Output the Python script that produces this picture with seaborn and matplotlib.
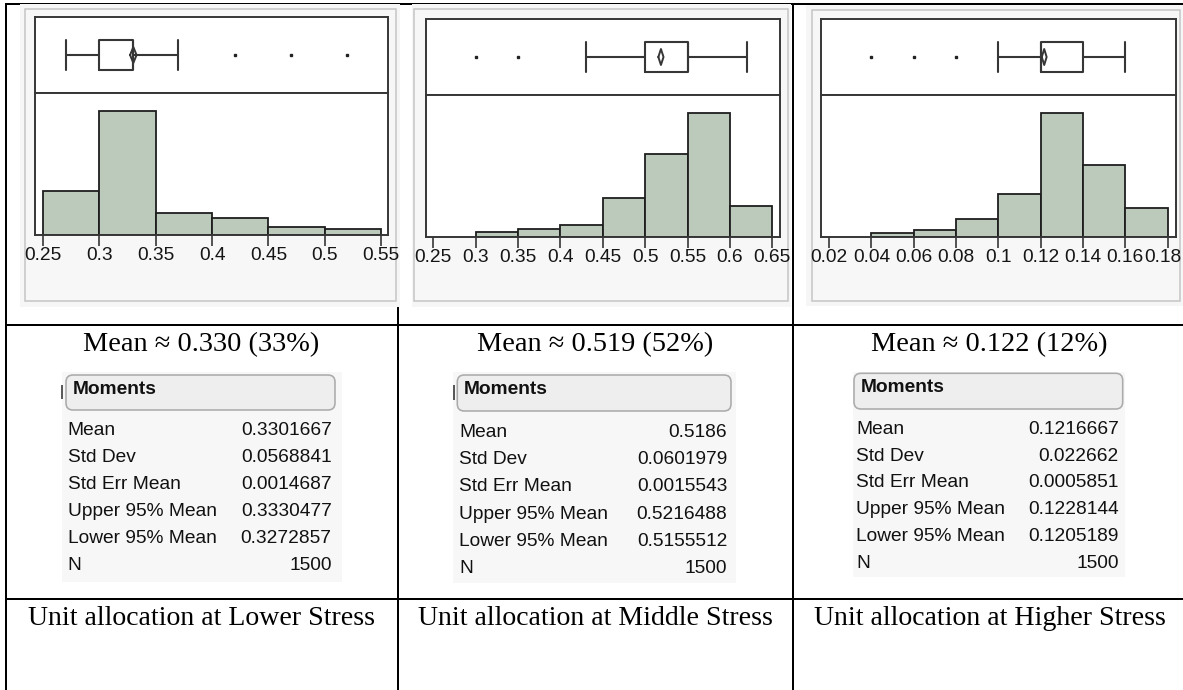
import matplotlib
matplotlib.use("Agg")
import matplotlib.pyplot as plt
from matplotlib.patches import Rectangle, FancyBboxPatch
from matplotlib.lines import Line2D
from matplotlib.transforms import Affine2D, ScaledTranslation
import seaborn as sns

sns.set_theme(style="white")
plt.rcParams["font.family"] = ["Liberation Sans", "DejaVu Sans"]

# ---------------- data ----------------
stress_levels = ["Lower", "Middle", "Higher"]

low_edges = [0.25, 0.30, 0.35, 0.40, 0.45, 0.50, 0.55]
low_counts = [297, 834, 153, 115, 59, 42]
mid_edges = [0.30, 0.35, 0.40, 0.45, 0.50, 0.55, 0.60, 0.65]
mid_counts = [25, 43, 61, 193, 413, 612, 153]
high_edges = [0.04, 0.06, 0.08, 0.10, 0.12, 0.14, 0.16, 0.18]
high_counts = [22, 37, 94, 217, 622, 363, 145]

low_ticks = [0.25, 0.30, 0.35, 0.40, 0.45, 0.50, 0.55]
mid_ticks = [0.25, 0.30, 0.35, 0.40, 0.45, 0.50, 0.55, 0.60, 0.65]
high_ticks = [0.02, 0.04, 0.06, 0.08, 0.10, 0.12, 0.14, 0.16, 0.18]

# five-number summaries with outliers
low_box = dict(whislo=0.27, q1=0.30, med=0.33, q3=0.33, whishi=0.37, fliers=[0.42, 0.47, 0.52])
mid_box = dict(whislo=0.43, q1=0.50, med=0.55, q3=0.55, whishi=0.62, fliers=[0.30, 0.35])
high_box = dict(whislo=0.10, q1=0.12, med=0.12, q3=0.14, whishi=0.16, fliers=[0.04, 0.06, 0.08])

moment_names = ["Mean", "Std Dev", "Std Err Mean", "Upper 95% Mean", "Lower 95% Mean", "N"]
low_moments = [0.3301667, 0.0568841, 0.0014687, 0.3330477, 0.3272857, 1500]
mid_moments = [0.5186, 0.0601979, 0.0015543, 0.5216488, 0.5155512, 1500]
high_moments = [0.1216667, 0.022662, 0.0005851, 0.1228144, 0.1205189, 1500]

# ---------------- layout (pixels, origin top-left) ----------------
W, H, DPI = 1183, 690, 100
BAR_FILL = "#bccabc"
INK = "#363636"

panels = [
    dict(edges=low_edges, counts=low_counts, ticks=low_ticks, box=low_box, mom=low_moments,
         band=(20, 4, 400, 307), frame=(25.5, 8.5, 396, 300.5),
         plot=(35, 17, 388, 235.3), divider=93, xlim=(0.2429, 0.5562),
         table=(61.7, 371.7, 341.7, 581.7), header=(66, 375, 335, 410),
         label_x=67.7, value_x=331.7, head_x=72.7, head_y=394, row0=435, step=27,
         mark=(62.5, 385, 399), cx=201.5, last_shift=0),
    dict(edges=mid_edges, counts=mid_counts, ticks=mid_ticks, box=mid_box, mom=mid_moments,
         band=(411.7, 4, 791.5, 307), frame=(413.8, 8.8, 788, 301.2),
         plot=(425.7, 19, 780, 237.3), divider=95, xlim=(0.2410, 0.6591),
         table=(453.3, 371.7, 736, 582.7), header=(457.3, 375, 731, 411),
         label_x=459, value_x=727.3, head_x=463.3, head_y=394, row0=436.7, step=27.3,
         mark=(454, 385, 400), cx=595.5, last_shift=0),
    dict(edges=high_edges, counts=high_counts, ticks=high_ticks, box=high_box, mom=high_moments,
         band=(806, 5, 1183, 306), frame=(811.7, 9.8, 1180, 301.2),
         plot=(820.7, 19, 1175.7, 237.3), divider=95, xlim=(0.01608, 0.18378),
         table=(853.3, 371.7, 1125, 576.7), header=(854, 373.3, 1122.7, 409),
         label_x=856, value_x=1119, head_x=860.7, head_y=392.3, row0=434, step=26.7,
         mark=None, cx=989.5, last_shift=-4.5),
]

fig = plt.figure(figsize=(W / DPI, H / DPI), dpi=DPI)
fig.patch.set_facecolor("white")
px = Affine2D().scale(1 / W, -1 / H).translate(0, 1) + fig.transFigure
LW = 72 / DPI  # one pixel in points


def hline(x0, x1, y, lw=2, color="black", z=-5):
    fig.add_artist(Line2D([x0, x1], [y, y], transform=px, color=color, lw=lw * LW, zorder=z,
                          solid_capstyle="butt"))


def vline(x, y0, y1, lw=2, color="black", z=-5):
    fig.add_artist(Line2D([x, x], [y0, y1], transform=px, color=color, lw=lw * LW, zorder=z,
                          solid_capstyle="butt"))


def rect(l, t, r, b, fc, ec="none", lw=0, z=-3):
    fig.add_artist(Rectangle((l, t), r - l, b - t, transform=px, facecolor=fc, edgecolor=ec,
                             lw=lw * LW, zorder=z))


def axes_px(l, t, r, b):
    return fig.add_axes([l / W, 1 - b / H, (r - l) / W, (b - t) / H])


def fmt_moment(v):
    if isinstance(v, int):
        return str(v)
    return f"{v:.7f}".rstrip("0")


# table rules
hline(5, 1183, 3.5)
hline(5, 1183, 324.5)
hline(5, 1183, 599)
vline(6, 2.5, 690)
vline(398.5, 2.5, 690)
vline(793.5, 2.5, 690)

for p, level in zip(panels, stress_levels):
    # report window background and frame
    rect(*p["band"], fc="#f6f6f6", z=-4)
    rect(*p["frame"], fc="#f7f7f7", ec="#c4c4c4", lw=1.5, z=-3)

    l, t, r, b = p["plot"]
    d = p["divider"]
    ax_box = axes_px(l, t, r, d)
    ax_hist = axes_px(l, d, r, b)

    # histogram
    mids = [(a + c) / 2 for a, c in zip(p["edges"][:-1], p["edges"][1:])]
    sns.histplot(x=mids, weights=p["counts"], bins=p["edges"], ax=ax_hist,
                 color=BAR_FILL, edgecolor="#1e1e1e", linewidth=1.3, alpha=1)
    ax_hist.set_xlim(*p["xlim"])
    ax_hist.set_ylim(0, max(p["counts"]) * 1.147)
    ax_hist.set_ylabel("")
    ax_hist.set_xlabel("")
    ax_hist.set_yticks([])
    ax_hist.set_xticks(p["ticks"])
    ax_hist.set_xticklabels([f"{v:g}" for v in p["ticks"]])
    ax_hist.tick_params(axis="x", bottom=True, length=7.6, width=1.2, color=INK,
                        pad=1.0, labelsize=13.8, labelcolor="#151515")
    ax_hist.set_facecolor("white")
    if p["last_shift"]:
        # keep the right-most tick label inside the page edge
        last = ax_hist.get_xticklabels()[-1]
        last.set_transform(last.get_transform()
                           + ScaledTranslation(p["last_shift"] / DPI, 0, fig.dpi_scale_trans))

    # box plot with means diamond
    stats = dict(p["box"])
    ax_box.bxp([stats], positions=[0.5], widths=[0.385], capwidths=[0.4],
               orientation="horizontal", showfliers=True,
               boxprops=dict(color=INK, lw=1.5), whiskerprops=dict(color=INK, lw=1.5),
               capprops=dict(color=INK, lw=1.5), medianprops=dict(color=INK, lw=1.5),
               flierprops=dict(marker="s", markersize=2.0, markerfacecolor="#222",
                               markeredgecolor="#222"))
    mean, upper, lower = p["mom"][0], p["mom"][3], p["mom"][4]
    h = 0.105
    ax_box.plot([lower, mean, upper, mean, lower], [0.5, 0.5 + h, 0.5, 0.5 - h, 0.5],
                color=INK, lw=1.4)
    ax_box.set_xlim(*p["xlim"])
    ax_box.set_ylim(0, 1)
    ax_box.set_xticks([])
    ax_box.set_yticks([])
    ax_box.set_facecolor("white")

    for ax in (ax_box, ax_hist):
        for s in ax.spines.values():
            s.set_color(INK)
            s.set_linewidth(1.4)
            s.set_visible(True)

    # headline with the rounded mean
    fig.text(p["cx"], 351.5, f"Mean \u2248 {mean:.3f} ({round(mean * 100)}%)", transform=px,
             ha="center", va="baseline", fontsize=20.4,
             family=["Liberation Serif", "DejaVu Serif"], color="black")

    # moments table
    rect(*p["table"], fc="#f7f7f7", z=-3)
    hl, ht, hr, hb = p["header"]
    fig.add_artist(FancyBboxPatch((hl, ht), hr - hl, hb - ht, transform=px,
                                  boxstyle="round,pad=0,rounding_size=7",
                                  facecolor="#eeeeee", edgecolor="#ababab", lw=1.6 * LW, zorder=-2))
    if p["mark"] is not None:
        mx, my0, my1 = p["mark"]
        vline(mx, my0, my1, lw=1.6, color="#333333", z=-1)
    fig.text(p["head_x"], p["head_y"], "Moments", transform=px, ha="left", va="baseline",
             fontsize=13.8, fontweight="bold", color="#111111")
    for i, (name, val) in enumerate(zip(moment_names, p["mom"])):
        y = p["row0"] + i * p["step"]
        fig.text(p["label_x"], y, name, transform=px, ha="left", va="baseline",
                 fontsize=13.8, color="#111111")
        fig.text(p["value_x"], y, fmt_moment(val), transform=px, ha="right", va="baseline",
                 fontsize=13.8, color="#111111")

    # caption
    fig.text(p["cx"], 625, f"Unit allocation at {level} Stress", transform=px,
             ha="center", va="baseline", fontsize=20.1,
             family=["Liberation Serif", "DejaVu Serif"], color="black")

fig.savefig("out.png", dpi=DPI, facecolor="white")
